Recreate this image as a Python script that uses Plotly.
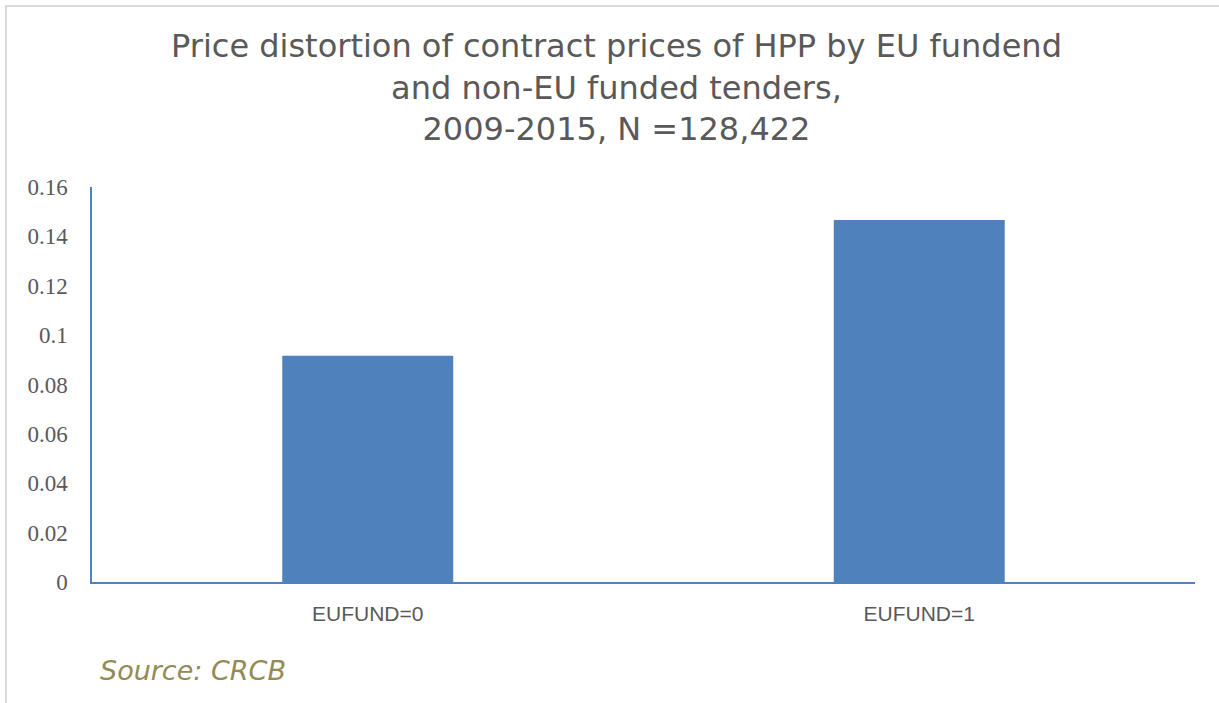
import plotly.graph_objects as go

categories = ["EUFUND=0", "EUFUND=1"]
values = [0.0916, 0.1466]
y_ticks = [0, 0.02, 0.04, 0.06, 0.08, 0.1, 0.12, 0.14, 0.16]
y_tick_labels = ["0", "0.02", "0.04", "0.06", "0.08", "0.1", "0.12", "0.14", "0.16"]

W, H = 1219, 703
L, R, T, B = 92, 24, 187, 121
pw, ph = W - L - R, H - T - B

def px_x(x):
    return (x - L) / pw

def px_y(y):
    return 1 - (y - T) / ph

fig = go.Figure(go.Bar(x=categories, y=values, marker=dict(color="#4F81BD", line=dict(width=0))))

fig.update_layout(
    width=W, height=H,
    margin=dict(l=L, r=R, t=T, b=B),
    paper_bgcolor="white", plot_bgcolor="white",
    bargap=0.69,
    showlegend=False,
    xaxis=dict(
        showline=True, linecolor="#4F81BD", linewidth=1.5,
        ticks="outside", ticklen=12, tickcolor="rgba(0,0,0,0)", showgrid=False,
        tickfont=dict(family="Liberation Sans", size=21, color="#595959"),
    ),
    yaxis=dict(
        range=[0, 0.16], tickvals=y_ticks, ticktext=y_tick_labels,
        showline=True, linecolor="#4F81BD", linewidth=1.5,
        ticks="outside", ticklen=18, tickcolor="rgba(0,0,0,0)",
        showgrid=False, zeroline=False,
        tickfont=dict(family="Liberation Serif", size=23, color="#595959"),
    ),
    shapes=[
        dict(type="line", xref="paper", yref="paper", x0=px_x(5), x1=px_x(1219), y0=px_y(6), y1=px_y(6),
             line=dict(color="#D9D9D9", width=2)),
        dict(type="line", xref="paper", yref="paper", x0=px_x(6), x1=px_x(6), y0=px_y(5), y1=px_y(703),
             line=dict(color="#D9D9D9", width=2)),
    ],
    annotations=[
        dict(text="Price distortion of contract prices of HPP by EU fundend<br>and non-EU funded tenders,<br>2009-2015, N =128,422",
             xref="paper", yref="paper", x=px_x(616), y=px_y(87),
             xanchor="center", yanchor="middle", showarrow=False,
             font=dict(family="DejaVu Sans", size=32, color="#595959")),
        dict(text="<i>Source: CRCB</i>", xref="paper", yref="paper", x=px_x(98), y=px_y(670),
             xanchor="left", yanchor="middle", showarrow=False,
             font=dict(family="DejaVu Sans", size=27, color="#948A54")),
    ],
)

fig.write_html("out.html", config={"displayModeBar": False},
               post_script="document.body.style.margin='0';")
